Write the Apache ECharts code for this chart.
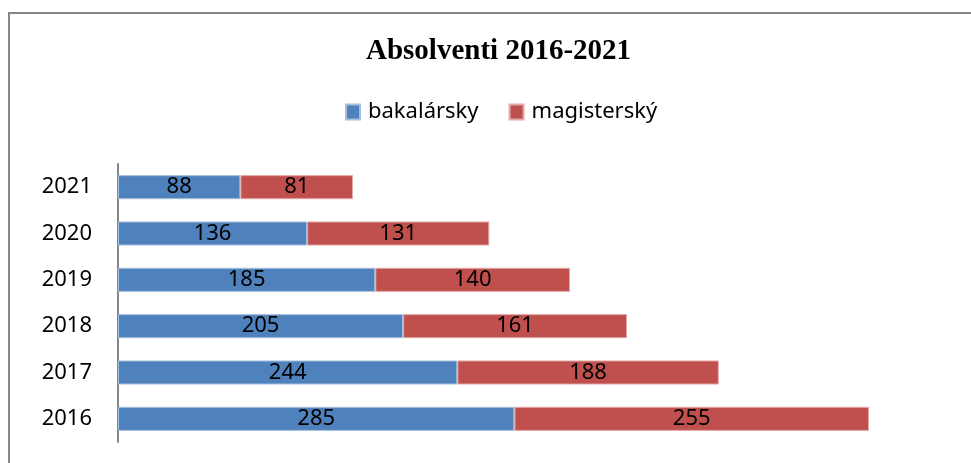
<!DOCTYPE html>
<html><head><meta charset="utf-8">
<script src="https://cdn.jsdelivr.net/npm/echarts@6/dist/echarts.min.js"></script>
<style>html,body{margin:0;padding:0;background:#fff}#c{width:971px;height:463px}</style>
</head><body><div id="c"></div>
<script>
const years = ['2016','2017','2018','2019','2020','2021'];
const bakalarsky = [285,244,205,185,136,88];
const magistersky = [255,188,161,140,131,81];
const chart = echarts.init(document.getElementById('c'));
const lbl = {show:true, position:'inside', color:'#000', fontFamily:'Noto Sans', fontSize:22};
chart.setOption({
  animation:false,
  backgroundColor:'#fff',
  graphic:[{type:'rect', shape:{x:9,y:13,width:1000,height:500}, style:{fill:'none', stroke:'#868686', lineWidth:2}, silent:true}],
  title:{text:'Absolventi 2016-2021', left:361, top:32, textStyle:{fontFamily:'Liberation Serif', fontWeight:'bold', fontSize:29, color:'#000'}},
  legend:{top:96, left:340, itemWidth:14, itemHeight:15, itemGap:30, icon:'rect',
    textStyle:{fontFamily:'Noto Sans', fontSize:22, color:'#000', padding:[0,0,0,3]}},
  grid:{left:118, right:102, top:164, bottom:21, containLabel:false},
  xAxis:{type:'value', min:0, max:540, show:false},
  yAxis:{type:'category', data:years, axisLine:{show:true, lineStyle:{color:'#868686', width:2}}, axisTick:{show:false},
    axisLabel:{fontFamily:'Noto Sans', fontSize:22, color:'#000', margin:26}},
  series:[
    {name:'bakalársky', type:'bar', stack:'a', data:bakalarsky, barWidth:'52%', itemStyle:{color:'#4F81BD', borderColor:'#A7C0DE', borderWidth:1}, label:lbl},
    {name:'magisterský', type:'bar', stack:'a', data:magistersky, barWidth:'52%', itemStyle:{color:'#C0504D', borderColor:'#E2A9A8', borderWidth:1}, label:lbl}
  ]
});
</script></body></html>
